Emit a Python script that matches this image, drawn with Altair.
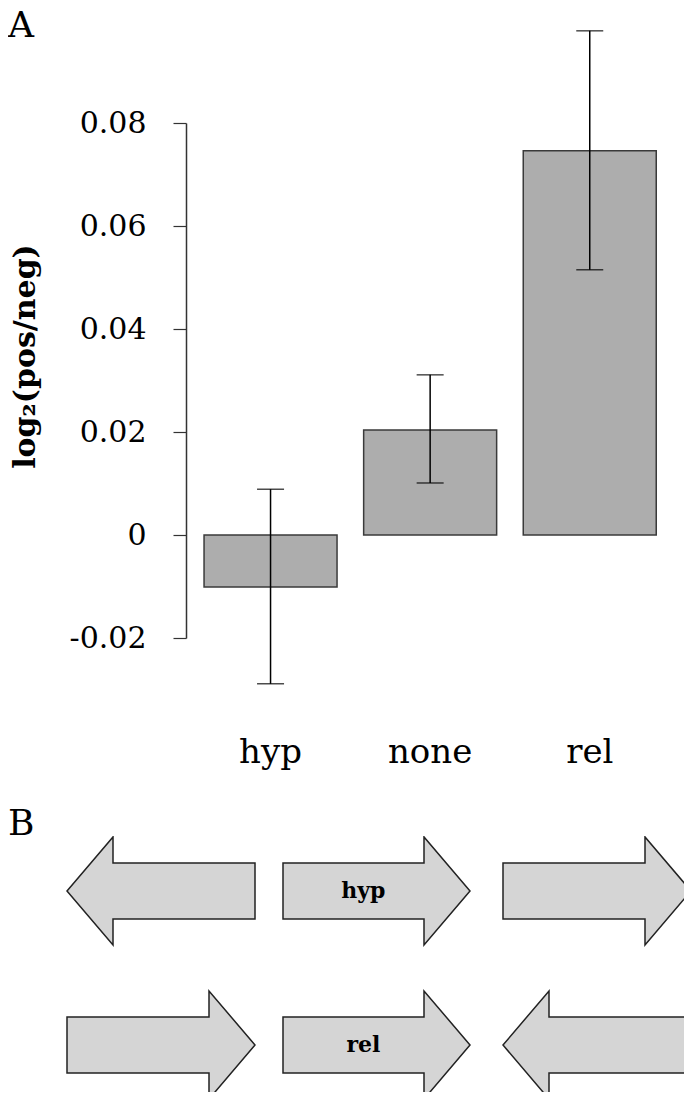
import altair as alt
import pandas as pd

SERIF = "DejaVu Serif"

# ---------------- Panel A data ----------------
categories = ["hyp", "none", "rel"]
log2_ratio = [-0.0101, 0.0204, 0.0746]
err_low = [-0.0289, 0.0101, 0.0515]
err_high = [0.0089, 0.0311, 0.0979]
y_ticks = [-0.02, 0.0, 0.02, 0.04, 0.06, 0.08]

# ---------------- Panel B data (gene arrows) ----------------
gene_row = [1, 1, 1, 0, 0, 0]
gene_start = [59, 275, 495, 59, 275, 495]
gene_end = [247, 462, 683, 247, 462, 683]
gene_strand = ["-", "+", "+", "+", "+", "-"]
gene_label = ["", "hyp", "", "", "rel", ""]

# arrow shape style
HEAD_LEN = 46
BODY_HALF = 0.182
HEAD_HALF = 0.351

bars_df = pd.DataFrame({"cat": categories, "value": log2_ratio,
                        "lo": err_low, "hi": err_high})

yscale = alt.Scale(domain=[-0.02, 0.08], nice=False, zero=False)
label_expr = ("datum.value == 0 ? '0' : (datum.value < 0 ? '-' + format(-datum.value, '.2f') "
              ": format(datum.value, '.2f'))")

xenc_axis = alt.X("cat:N", sort=categories,
                  scale=alt.Scale(paddingInner=0.1667, paddingOuter=0.7011, align=0.876),
                  axis=alt.Axis(title=None, labelAngle=0, domain=False, ticks=False,
                                labelFont=SERIF, labelFontSize=34, labelColor="black",
                                labelPadding=124, labelBaseline="alphabetic"))
xenc = alt.X("cat:N", sort=categories)

yaxis = alt.Axis(values=y_ticks, labelExpr=label_expr, grid=False, offset=-178,
                 title="log₂(pos/neg)", titleFont=SERIF, titleFontSize=30,
                 titleFontWeight="bold", titleColor="black", titleAngle=270,
                 titleX=-146, titleY=233, titleAlign="center", titleBaseline="bottom",
                 domainColor="#333333", domainWidth=1.5,
                 tickColor="#333333", tickWidth=1.2, tickSize=13,
                 labelFont=SERIF, labelFontSize=30, labelColor="black", labelPadding=27)

bars = alt.Chart(bars_df).mark_bar(fill="#adadad", stroke="#3a3a3a", strokeWidth=1.5,
                                   clip=False).encode(
    x=xenc_axis,
    y=alt.Y("value:Q", scale=yscale, axis=yaxis),
    y2=alt.datum(0),
)
err = alt.Chart(bars_df).mark_rule(color="black", strokeWidth=1.5, clip=False).encode(
    x=xenc, y=alt.Y("lo:Q", scale=yscale), y2="hi:Q")
cap_lo = alt.Chart(bars_df).mark_tick(color="black", thickness=1.5, size=27, clip=False,
                                      orient="horizontal").encode(
    x=xenc, y=alt.Y("lo:Q", scale=yscale))
cap_hi = alt.Chart(bars_df).mark_tick(color="black", thickness=1.5, size=27, clip=False,
                                      orient="horizontal").encode(
    x=xenc, y=alt.Y("hi:Q", scale=yscale))

panel_a = alt.layer(bars, err, cap_lo, cap_hi).properties(
    width=676, height=515,
    title=alt.TitleParams("A", anchor="start", frame="bounds", font=SERIF, fontSize=36,
                          fontWeight="normal", color="black", offset=-43,
                          baseline="alphabetic"),
)

# ---------------- Panel B ----------------
rows = []
for i in range(len(gene_start)):
    s, e, c = gene_start[i], gene_end[i], gene_row[i]
    if gene_strand[i] == "+":
        h = e - HEAD_LEN
        pts = [(s, c + BODY_HALF, c - BODY_HALF), (h, c + BODY_HALF, c - BODY_HALF),
               (h, c + HEAD_HALF, c - HEAD_HALF), (e, c, c)]
    else:
        h = s + HEAD_LEN
        pts = [(s, c, c), (h, c + HEAD_HALF, c - HEAD_HALF),
               (h, c + BODY_HALF, c - BODY_HALF), (e, c + BODY_HALF, c - BODY_HALF)]
    for k, (x, yt, yb) in enumerate(pts):
        rows.append({"gene": i, "k": k, "x": x, "top": yt, "bot": yb})
arrow_df = pd.DataFrame(rows)

lab_rows = []
for i in range(len(gene_start)):
    if gene_label[i]:
        lab_rows.append({"x": gene_start[i] + 0.43 * (gene_end[i] - gene_start[i]),
                         "y": gene_row[i], "label": gene_label[i]})
lab_df = pd.DataFrame(lab_rows)

bx = alt.Scale(domain=[0, 676], nice=False, zero=False)
by = alt.Scale(domain=[-0.305, 1.357], nice=False, zero=False)

arrows = alt.Chart(arrow_df).mark_area(
    fill="#d5d5d5", stroke="#222222", strokeWidth=1.5, strokeJoin="miter",
    clip=True, orient="vertical", interpolate="linear", fillOpacity=1,
).encode(
    x=alt.X("x:Q", scale=bx, axis=None),
    y=alt.Y("top:Q", scale=by, axis=None, stack=None),
    y2="bot:Q",
    detail="gene:N",
)
labels = alt.Chart(lab_df).mark_text(font=SERIF, fontSize=22, fontWeight="bold",
                                     color="black", baseline="middle", align="center").encode(
    x=alt.X("x:Q", scale=bx, axis=None),
    y=alt.Y("y:Q", scale=by, axis=None),
    text="label:N",
)

panel_b = alt.layer(arrows, labels).properties(
    width=676, height=256,
    title=alt.TitleParams("B", anchor="start", frame="bounds", font=SERIF, fontSize=36,
                          fontWeight="normal", color="black", offset=-35,
                          baseline="alphabetic"),
)

chart = alt.vconcat(panel_a, panel_b, spacing=37).properties(
    padding={"left": 0, "top": 0, "right": 0, "bottom": 0},
    background="white",
).configure_view(stroke=None)

chart.save("out.html", embed_options={"renderer": "svg", "actions": False})
